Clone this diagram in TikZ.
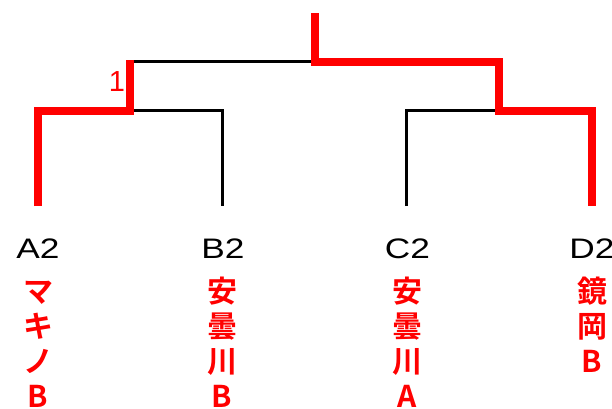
\documentclass[tikz,border=0pt]{standalone}
\usepackage{fontspec}
\setmainfont{Liberation Sans}
\newfontfamily\seedfont{Liberation Sans}[FakeStretch=1.25]
\newfontfamily\cjkb{Noto Sans CJK JP Bold}
\begin{document}
\begin{tikzpicture}[x=1pt,y=-1pt,
  win/.style={draw=red, line width=8pt, line join=miter},
  lose/.style={draw=black, line width=3pt, line join=miter},
  seed/.style={font=\seedfont\fontsize{28.2}{30}\selectfont, inner sep=0pt, anchor=base},
  team/.style={text=red, font=\cjkb\fontsize{30}{35}\selectfont, inner sep=0pt, anchor=base},
  rank/.style={text=red, font=\fontsize{29}{30}\selectfont, inner sep=0pt, anchor=base}]
\useasboundingbox (0,0) rectangle (612,408);
% leaves
\coordinate (la) at (38,206);
\coordinate (lb) at (222,206);
\coordinate (lc) at (406.5,206);
\coordinate (ld) at (591.5,206);
% junctions
\coordinate (sab) at (130,111);
\coordinate (sabk) at (130,110.5);
\coordinate (sabt) at (130,60);
\coordinate (fl) at (130,61.5);
\coordinate (fr) at (315,61.5);
\coordinate (fin) at (315,62);
\coordinate (top) at (315,13);
\coordinate (scd) at (499,111);
\coordinate (scdk) at (499,110.5);
% losers (black)
\draw[lose] (sabk) -| (lb);
\draw[lose] (lc) |- (scdk);
\draw[lose] (fl) -- (fr);
% winners (red)
\draw[win] (la) |- (sab) -- (sabt);
\draw[win] (top) -- (fin) -| (scd) -- (ld |- scd) -- (ld);
% rank label
\node[rank] (r1) at (117,91) {1};
% seed labels
\node[seed] (sa) at (38,258) {A2};
\node[seed] (sb) at (223,258) {B2};
\node[seed] (sc) at (407.5,258) {C2};
\node[seed] (sd) at (592,258) {D2};
% team names
\node[team] (a1) at (38,302) {マ};
\node[team] (a2) at (38,337) {キ};
\node[team] (a3) at (38,372) {ノ};
\node[team] (a4) at (38,407) {B};
\node[team] (b1) at (222,302) {安};
\node[team] (b2) at (222,337) {曇};
\node[team] (b3) at (222,372) {川};
\node[team] (b4) at (222,407) {B};
\node[team] (c1) at (407,302) {安};
\node[team] (c2) at (407,337) {曇};
\node[team] (c3) at (407,372) {川};
\node[team] (c4) at (407,407) {A};
\node[team] (d1) at (592,302) {鏡};
\node[team] (d2) at (592,337) {岡};
\node[team] (d3) at (592,372) {B};
\end{tikzpicture}
\end{document}
